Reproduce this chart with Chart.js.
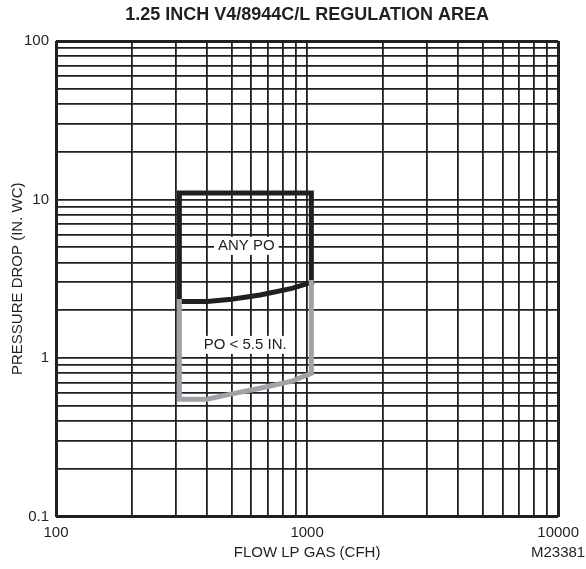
<!DOCTYPE html>
<html>
<head>
<meta charset="utf-8">
<script src="https://cdn.jsdelivr.net/npm/chart.js@4/dist/chart.umd.min.js"></script>
<style>
  html, body { margin: 0; padding: 0; background: #fff; }
  #wrap { width: 586px; height: 569px; position: relative; }
</style>
</head>
<body>
<div id="wrap"><canvas id="grafico"></canvas></div>
<script>
// datos (flujo en CFH, caida de presion en IN. WC)
const tituloGrafico = '1.25 INCH V4/8944C/L REGULATION AREA';
const tituloX = 'FLOW LP GAS (CFH)';
const tituloY = 'PRESSURE DROP (IN. WC)';
const codigoFigura = 'M23381';

const xTicks = ['100', '1000', '10000'];
const yTicks = ['0.1', '1', '10', '100'];

// zona "ANY PO" (contorno negro)
const anyPoFlujo   = [1040, 1040, 310, 310, 400, 500, 650, 870, 1040];
const anyPoPresion = [3.0, 11, 11, 2.27, 2.27, 2.35, 2.5, 2.75, 3.0];

// zona "PO < 5.5 IN." (contorno gris)
const po55Flujo   = [310, 310, 400, 480, 650, 870, 1040, 1040];
const po55Presion = [2.27, 0.55, 0.55, 0.585, 0.645, 0.715, 0.8, 3.0];

// etiquetas dentro del grafico
const etiquetas = ['ANY PO', 'PO < 5.5 IN.'];
const etiquetasFlujo = [573, 567];
const etiquetasPresion = [5.1, 1.21];

const NEGRO = '#231f20';
const GRIS = '#9da3a8';
const FUENTE = '"Liberation Sans", Arial, Helvetica, sans-serif';

function puntos(xs, ys) {
    return xs.map((x, i) => ({ x: x, y: ys[i] }));
}

// ticks 1..9 por decada para la grilla
function ticksLog(min, max) {
    const ticks = [];
    for (let e = Math.round(Math.log10(min)); e < Math.round(Math.log10(max)); e++) {
        for (let m = 1; m <= 9; m++) ticks.push({ value: +(m * Math.pow(10, e)).toPrecision(6) });
    }
    ticks.push({ value: max });
    return ticks;
}

function etiquetaDecada(lista, min) {
    return (value) => {
        const l = Math.log10(value);
        if (Math.abs(l - Math.round(l)) > 1e-9) return '';
        return lista[Math.round(l - Math.log10(min))];
    };
}

function anchoGrilla(ctx) {
    const n = ctx.scale.ticks.length;
    if (ctx.index === 0 || ctx.index === n - 1) return 3;
    return 1.8;
}

const textosPlugin = {
    id: 'textos',
    afterDatasetsDraw(chart) {
        const { ctx, scales, chartArea } = chart;
        ctx.save();
        ctx.textBaseline = 'middle';
        ctx.textAlign = 'center';
        ctx.font = '15px ' + FUENTE;
        etiquetas.forEach((t, i) => {
            const px = scales.x.getPixelForValue(etiquetasFlujo[i]);
            const py = scales.y.getPixelForValue(etiquetasPresion[i]);
            const w = ctx.measureText(t).width + 8;
            ctx.fillStyle = '#fff';
            ctx.fillRect(px - w / 2, py - 9, w, 18);
            ctx.fillStyle = NEGRO;
            ctx.fillText(t, px, py);
        });
        // titulo centrado sobre el area del grafico
        ctx.font = 'bold 18px ' + FUENTE;
        ctx.fillText(tituloGrafico, (chartArea.left + chartArea.right) / 2, 15);
        // codigo de figura
        ctx.font = '15px ' + FUENTE;
        ctx.textAlign = 'left';
        ctx.fillText(codigoFigura, 531, 553);
        ctx.restore();
    }
};

new Chart(document.getElementById('grafico'), {
    type: 'scatter',
    data: {
        datasets: [
            {
                label: etiquetas[1],
                data: puntos(po55Flujo, po55Presion),
                showLine: true,
                borderColor: GRIS,
                borderWidth: 5,
                pointRadius: 0,
                tension: 0,
                borderJoinStyle: 'miter',
                borderCapStyle: 'square'
            },
            {
                label: etiquetas[0],
                data: puntos(anyPoFlujo, anyPoPresion),
                showLine: true,
                borderColor: NEGRO,
                borderWidth: 5,
                pointRadius: 0,
                tension: 0,
                borderJoinStyle: 'miter',
                borderCapStyle: 'square'
            }
        ]
    },
    options: {
        responsive: true,
        maintainAspectRatio: false,
        animation: false,
        layout: { padding: { top: 41, right: 24, left: 0, bottom: 0 } },
        plugins: {
            legend: { display: false },
            tooltip: { enabled: false }
        },
        scales: {
            x: {
                type: 'logarithmic',
                min: 100,
                max: 10000,
                afterBuildTicks: (s) => { s.ticks = ticksLog(100, 10000); },
                afterFit: (s) => { s.height = 52.5; },
                ticks: {
                    autoSkip: false,
                    maxRotation: 0,
                    padding: 7,
                    color: NEGRO,
                    font: { family: FUENTE, size: 15 },
                    callback: etiquetaDecada(xTicks, 100)
                },
                grid: { color: NEGRO, lineWidth: anchoGrilla, drawTicks: false },
                border: { display: false },
                title: {
                    display: true,
                    text: tituloX,
                    color: NEGRO,
                    font: { family: FUENTE, size: 15 },
                    padding: { top: 0, bottom: 7 }
                }
            },
            y: {
                type: 'logarithmic',
                min: 0.1,
                max: 100,
                afterBuildTicks: (s) => { s.ticks = ticksLog(0.1, 100); },
                afterFit: (s) => { s.width = 56; },
                ticks: {
                    autoSkip: false,
                    padding: 7,
                    color: NEGRO,
                    font: { family: FUENTE, size: 15 },
                    callback: etiquetaDecada(yTicks, 0.1)
                },
                grid: { color: NEGRO, lineWidth: anchoGrilla, drawTicks: false },
                border: { display: false },
                title: {
                    display: true,
                    text: tituloY,
                    color: NEGRO,
                    font: { family: FUENTE, size: 15 },
                    padding: { top: 9, bottom: 0 }
                }
            }
        }
    },
    plugins: [textosPlugin]
});
</script>
</body>
</html>
